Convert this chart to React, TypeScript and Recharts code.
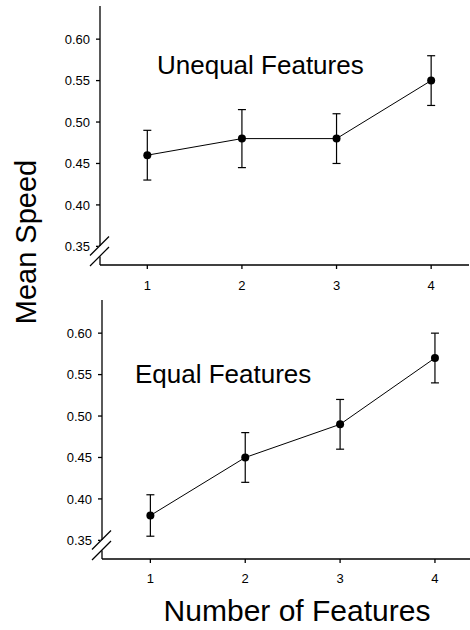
import { ErrorBar, Line, LineChart, XAxis, YAxis } from 'recharts';

const features = [1, 2, 3, 4];
const unequalMeans = [0.46, 0.48, 0.48, 0.55];
const unequalErr = [0.03, 0.035, 0.03, 0.03];
const equalMeans = [0.38, 0.45, 0.49, 0.57];
const equalErr = [0.025, 0.03, 0.03, 0.03];
const yTicks = [0.35, 0.4, 0.45, 0.5, 0.55, 0.6];

const FONT = '"Liberation Sans", Arial, Helvetica, sans-serif';

const unequalData = features.map((f, i) => ({ f, mean: unequalMeans[i], err: unequalErr[i] }));
const equalData = features.map((f, i) => ({ f, mean: equalMeans[i], err: equalErr[i] }));

type Row = { f: number; mean: number; err: number };

function Panel({
  data,
  top,
  axisWidth,
  xDomain,
  tickMargin,
}: {
  data: Row[];
  top: number;
  axisWidth: number;
  xDomain: [number, number];
  tickMargin: number;
}) {
  const tick = { fill: '#000', fontSize: 13, fontFamily: FONT };
  return (
    <div style={{ position: 'absolute', left: 0, top }}>
      <LineChart width={470} height={295} data={data} margin={{ top: 6, right: 470 - 369 - axisWidth, left: 0, bottom: 0 }}>
        <XAxis
          dataKey="f"
          type="number"
          domain={xDomain}
          ticks={features}
          allowDataOverflow
          height={30}
          tickSize={4}
          tickMargin={tickMargin}
          stroke="#000"
          strokeWidth={1.3}
          tick={tick}
        />
        <YAxis
          type="number"
          domain={[0.3275, 0.64]}
          ticks={yTicks}
          allowDataOverflow
          width={axisWidth}
          tickSize={4}
          tickMargin={6}
          stroke="#000"
          strokeWidth={1.3}
          tick={tick}
          tickFormatter={(v: number) => v.toFixed(2)}
        />
        <Line
          dataKey="mean"
          stroke="#000"
          strokeWidth={1}
          dot={{ r: 4, fill: '#000', stroke: '#000', strokeWidth: 0 }}
          isAnimationActive={false}
        >
          <ErrorBar dataKey="err" width={4} stroke="#000" strokeWidth={1.2} direction="y" />
        </Line>
      </LineChart>
    </div>
  );
}

function AxisBreak({ x, y }: { x: number; y: number }) {
  // y is the bottom of the plot; the two slashes sit just above it
  const upper = y - 19;
  const lower = y - 8.5;
  return (
    <g stroke="#000" strokeWidth={1.2}>
      <rect x={x - 2} y={upper} width={4} height={lower - upper} fill="#fff" stroke="none" />
      <line x1={x - 10} y1={upper + 9.5} x2={x + 9} y2={upper - 9.5} />
      <line x1={x - 10} y1={lower + 9.5} x2={x + 9} y2={lower - 9.5} />
    </g>
  );
}

export default function App() {
  return (
    <div style={{ position: 'absolute', left: 0, top: 0, width: 470, height: 630, background: '#fff', fontFamily: FONT }}>
      <Panel data={unequalData} top={0} axisWidth={100} xDomain={[0.5, 4.4]} tickMargin={12} />
      <Panel data={equalData} top={294} axisWidth={102} xDomain={[0.49, 4.38]} tickMargin={11} />
      <svg width={470} height={630} style={{ position: 'absolute', left: 0, top: 0, pointerEvents: 'none' }}>
        <AxisBreak x={100} y={265} />
        <AxisBreak x={102} y={559} />
        <text x={157} y={74} fontSize={26} fontFamily={FONT} fill="#000">
          Unequal Features
        </text>
        <text x={135} y={383} fontSize={26} fontFamily={FONT} fill="#000">
          Equal Features
        </text>
        <text x={36} y={242} fontSize={29} fontFamily={FONT} fill="#000" textAnchor="middle" transform="rotate(-90 36 242)">
          Mean Speed
        </text>
        <text x={297} y={621} fontSize={30} fontFamily={FONT} fill="#000" textAnchor="middle">
          Number of Features
        </text>
      </svg>
    </div>
  );
}
